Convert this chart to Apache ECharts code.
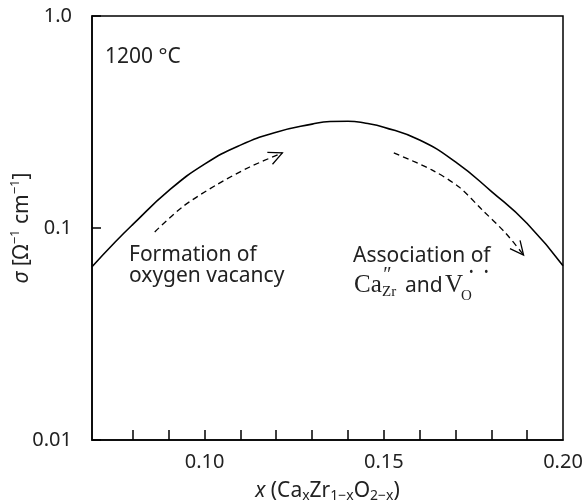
<!DOCTYPE html>
<html>
<head>
<meta charset="utf-8">
<script src="https://cdn.jsdelivr.net/npm/echarts@6/dist/echarts.min.js"></script>
<style>
  html, body { margin: 0; padding: 0; background: #fff; }
  #chart { width: 588px; height: 500px; }
</style>
</head>
<body>
<div id="chart"></div>
<script>
// conductivity curve
const curveX = [0.0686, 0.075, 0.080, 0.090, 0.100, 0.110, 0.120, 0.130, 0.135, 0.140, 0.145, 0.150, 0.160, 0.170, 0.180, 0.190, 0.200]
const curveY = [0.0657, 0.0857, 0.104, 0.150, 0.200, 0.246, 0.283, 0.309, 0.318, 0.319, 0.312, 0.299, 0.260, 0.205, 0.149, 0.105, 0.0663]

// dashed guide arrows
const upArrowX = [0.0861, 0.0939, 0.1034, 0.1126, 0.1217]
const upArrowY = [0.0958, 0.126, 0.160, 0.194, 0.226]
const downArrowX = [0.1528, 0.1634, 0.1710, 0.1774, 0.1840, 0.1890]
const downArrowY = [0.226, 0.188, 0.156, 0.122, 0.0946, 0.0746]

// axes
const xMin = 0.0686
const xMax = 0.20
const xTickValues = [0.08, 0.09, 0.10, 0.11, 0.12, 0.13, 0.14, 0.15, 0.16, 0.17, 0.18, 0.19]
const xLabelValues = [0.10, 0.15, 0.20]
const yLabels = { '0.01': '0.01', '0.1': '0.1', '1': '1.0' }

const FONT = 'Noto Sans'
const SERIF = 'Liberation Serif'

const chart = echarts.init(document.getElementById('chart'))

const arrowSeries = (xs, ys) => ({
  type: 'custom',
  coordinateSystem: 'cartesian2d',
  data: [[xs[0], ys[0]]],
  silent: true,
  z: 3,
  renderItem: (params, api) => {
    const pts = xs.map((x, i) => api.coord([x, ys[i]]))
    const tip = pts[pts.length - 1]
    const prev = pts[pts.length - 2]
    const ang = Math.atan2(tip[1] - prev[1], tip[0] - prev[0])
    const len = 15
    const arm = s => [tip[0] - len * Math.cos(ang + s), tip[1] - len * Math.sin(ang + s)]
    return {
      type: 'group',
      children: [
        {
          type: 'polyline',
          shape: { points: pts, smooth: 0.3 },
          style: { stroke: '#000', lineWidth: 1.3, lineDash: [6, 4], fill: null }
        },
        {
          type: 'polyline',
          shape: { points: [arm(Math.PI / 7), tip, arm(-Math.PI / 7)] },
          style: { stroke: '#000', lineWidth: 1.3, fill: null }
        }
      ]
    }
  }
})

const txt = (left, top, text, size, family, italic) => ({
  type: 'text',
  left, top,
  style: { text, fontSize: size, fontFamily: family, fontStyle: italic ? 'italic' : 'normal', fill: '#222' }
})

const option = {
  animation: false,
  backgroundColor: '#fff',
  grid: {
    left: 92, right: 25, top: 16, bottom: 60,
    outerBoundsMode: 'none',
    containLabel: false,
    show: true, borderColor: '#000', borderWidth: 1.5, backgroundColor: 'transparent'
  },
  xAxis: {
    type: 'value',
    min: xMin,
    max: xMax,
    axisLine: { lineStyle: { color: '#000', width: 1.5 } },
    axisTick: { inside: true, length: 10, customValues: xTickValues, lineStyle: { color: '#000', width: 1.5 } },
    axisLabel: {
      customValues: xLabelValues,
      formatter: v => v.toFixed(2),
      fontFamily: FONT, fontSize: 20, color: '#222', margin: 12
    },
    splitLine: { show: false },
    name: '{i|x} (Ca{s|x}Zr{s|1−x}O{s|2−x})',
    nameLocation: 'middle',
    nameGap: 39,
    nameMoveOverlap: false,
    nameTextStyle: {
      fontFamily: FONT, fontSize: 21, color: '#222', lineHeight: 24,
      rich: {
        i: { fontStyle: 'italic', fontFamily: FONT, fontSize: 21, lineHeight: 24 },
        s: { fontFamily: FONT, fontSize: 14, verticalAlign: 'bottom', lineHeight: 14 }
      }
    }
  },
  yAxis: {
    type: 'log',
    logBase: 10,
    min: 0.01,
    max: 1,
    axisLine: { lineStyle: { color: '#000', width: 1.5 } },
    axisTick: { inside: true, length: 9, lineStyle: { color: '#000', width: 1.5 } },
    minorTick: { show: false },
    axisLabel: {
      formatter: v => yLabels[String(v)] || '',
      showMinLabel: true, showMaxLabel: true,
      fontFamily: FONT, fontSize: 20, color: '#222', margin: 20
    },
    splitLine: { show: false },
    name: '{g|σ} [Ω{p|−1} cm{p|−1}]',
    nameLocation: 'middle',
    nameGap: 57,
    nameMoveOverlap: false,
    nameTextStyle: {
      fontFamily: FONT, fontSize: 21, color: '#222', lineHeight: 26,
      rich: {
        g: { fontStyle: 'italic', fontFamily: FONT, fontSize: 21, lineHeight: 26 },
        p: { fontFamily: FONT, fontSize: 13, verticalAlign: 'top', lineHeight: 13 }
      }
    }
  },
  series: [
    {
      type: 'line',
      data: curveX.map((x, i) => [x, curveY[i]]),
      smooth: true,
      symbol: 'none',
      lineStyle: { color: '#000', width: 1.6 },
      z: 4
    },
    arrowSeries(upArrowX, upArrowY),
    arrowSeries(downArrowX, downArrowY)
  ],
  graphic: [
    txt(105, 47, '1200 °C', 21, FONT),
    txt(129, 245, 'Formation of', 21, FONT),
    txt(129, 266, 'oxygen vacancy', 21, FONT),
    txt(353, 246, 'Association of', 21, FONT),
    txt(354, 273, 'Ca', 25, SERIF),
    txt(382, 266, '″', 20, SERIF, true),
    txt(382, 285, 'Zr', 15, SERIF),
    txt(405, 276, 'and', 21, FONT),
    txt(445, 273, 'V', 25, SERIF),
    txt(461, 289, 'O', 15, SERIF),
    txt(469, 267, '•', 12, FONT),
    txt(484, 267, '•', 12, FONT)
  ]
}

chart.setOption(option)
window.addEventListener('resize', () => chart.resize())
</script>
</body>
</html>
